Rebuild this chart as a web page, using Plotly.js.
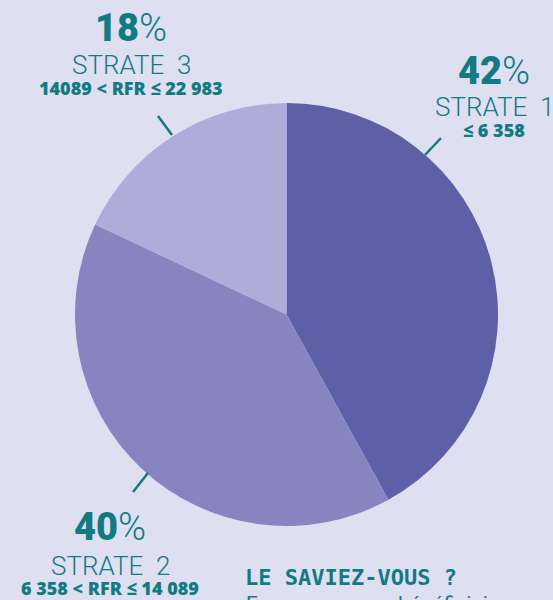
<!DOCTYPE html>
<html>
<head>
<meta charset="utf-8">
<script src="https://cdn.plot.ly/plotly-3.0.1.min.js"></script>
<style>
  html, body { margin: 0; padding: 0; background: #dfdff2; }
  #chart { width: 553px; height: 600px; }
</style>
</head>
<body>
<div id="chart"></div>
<script>
// ---- data ----
const categories = ["STRATE 1", "STRATE 2", "STRATE 3"];
const values = [42, 40, 18];
const rangeLabels = ["≤ 6 358", "6 358 < RFR ≤ 14 089", "14089 < RFR ≤ 22 983"];
const sliceColors = ["#5d5fa7", "#8785c0", "#b0acd9"];
const noteTitle = "LE SAVIEZ-VOUS ?";
const noteText = "En moyenne, un bénéficiaire";

const W = 553, H = 600;
const teal = "#127b82";
const px = x => x / W;
const py = y => 1 - y / H;

// label placement (pixels) per category
const labelPos = [
  { x: 494, pct: 71, name: 107, range: 130 },
  { x: 110, pct: 527, name: 566, range: 588 },
  { x: 131, pct: 28, name: 65, range: 88 }
];
const leaders = [
  [441, 138, 425, 155],
  [148, 473, 133, 492],
  [158, 116, 172, 135]
];

const trace = {
  type: "pie",
  values: values,
  labels: categories,
  sort: false,
  direction: "clockwise",
  rotation: 0,
  marker: { colors: sliceColors, line: { width: 0 } },
  textinfo: "none",
  hoverinfo: "none",
  showlegend: false,
  domain: { x: [75 / W, 498 / W], y: [py(526), py(103)] }
};

const annotations = [];
const shapes = [];
categories.forEach((c, i) => {
  const p = labelPos[i];
  annotations.push({
    xref: "paper", yref: "paper", x: px(p.x), y: py(p.pct), xanchor: "center", yanchor: "middle",
    showarrow: false,
    text: "<span style='font-weight:900'>" + values[i] + "</span><span style='font-weight:300'>%</span>",
    font: { family: "Roboto", size: 38, color: teal }
  });
  annotations.push({
    xref: "paper", yref: "paper", x: px(p.x), y: py(p.name), xanchor: "center", yanchor: "middle",
    showarrow: false,
    text: c.replace(" ", "  "),
    font: { family: "Roboto", size: 26, color: teal, weight: 300 }
  });
  annotations.push({
    xref: "paper", yref: "paper", x: px(p.x), y: py(p.range), xanchor: "center", yanchor: "middle",
    showarrow: false,
    text: rangeLabels[i],
    font: { family: "Open Sans, Roboto, Liberation Sans", size: 18, color: teal, weight: 800 }
  });
  const l = leaders[i];
  shapes.push({
    type: "line", xref: "paper", yref: "paper",
    x0: px(l[0]), y0: py(l[1]), x1: px(l[2]), y1: py(l[3]),
    line: { color: teal, width: 2.5 }
  });
});
annotations.push({
  xref: "paper", yref: "paper", x: px(243), y: py(577), xanchor: "left", yanchor: "middle",
  showarrow: false, text: "<b>" + noteTitle + "</b>",
  font: { family: "DejaVu Sans Mono, Liberation Mono", size: 22, color: teal }
});
annotations.push({
  xref: "paper", yref: "paper", x: px(244), y: py(590), xanchor: "left", yanchor: "top",
  showarrow: false, text: noteText,
  font: { family: "Roboto, Liberation Sans", size: 21, color: teal }
});

const layout = {
  width: W, height: H,
  margin: { l: 0, r: 0, t: 0, b: 0 },
  paper_bgcolor: "rgba(0,0,0,0)",
  plot_bgcolor: "rgba(0,0,0,0)",
  annotations: annotations,
  shapes: shapes
};

Plotly.newPlot("chart", [trace], layout, { staticPlot: true, displayModeBar: false });
</script>
</body>
</html>
